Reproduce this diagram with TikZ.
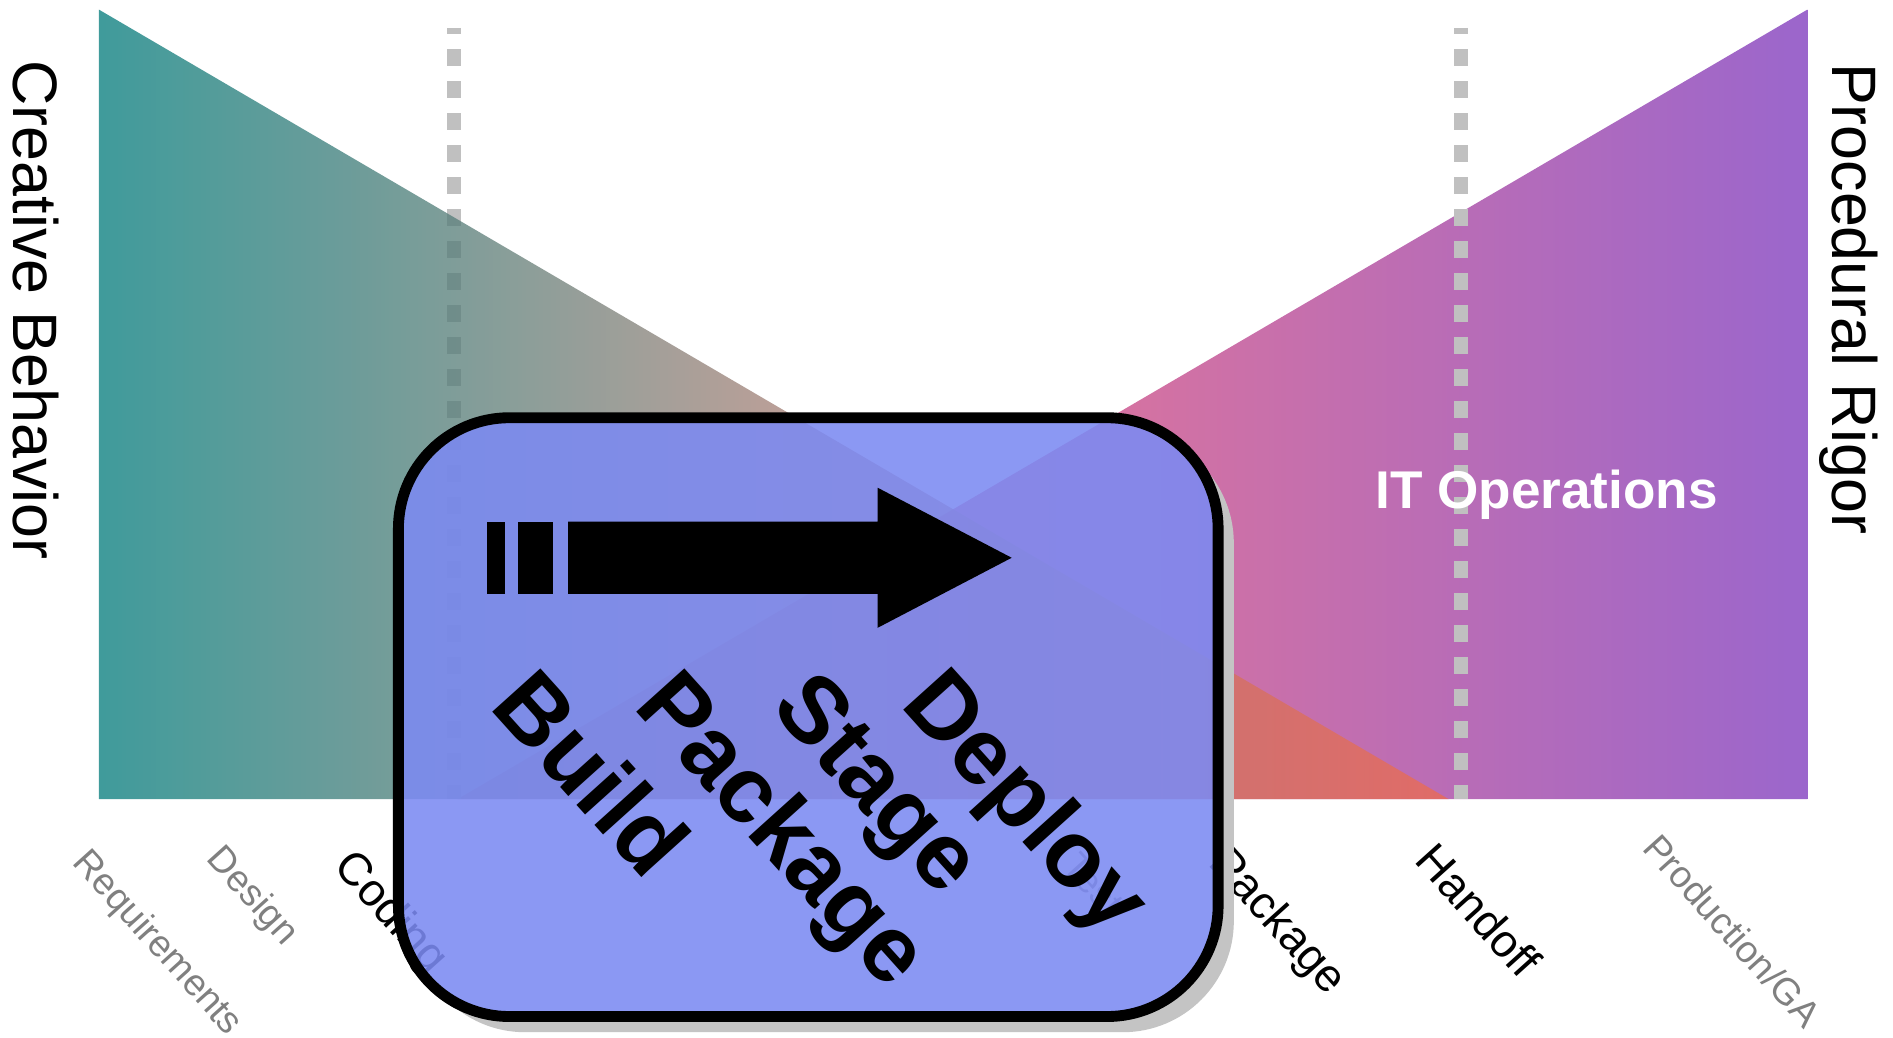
\documentclass[tikz,border=0pt]{standalone}
\usepackage{fontspec}
\setmainfont{Liberation Sans}
\definecolor{tealA}{RGB}{0,122,122}
\definecolor{tanM}{RGB}{162,128,118}
\definecolor{salR}{RGB}{238,107,78}
\definecolor{pinkL}{RGB}{232,115,140}
\definecolor{pinkM}{RGB}{212,114,162}
\definecolor{purpR}{RGB}{155,102,204}
\definecolor{dashgray}{RGB}{192,192,192}
\definecolor{labgray}{RGB}{128,128,128}
\definecolor{boxblue}{RGB}{124,138,242}
\definecolor{shadowgray}{RGB}{196,196,196}
\begin{document}
\begin{tikzpicture}[x=1pt,y=-1pt,
  dashline/.style={draw=dashgray, line width=12pt, dash pattern=on 14pt off 12.5pt, dash phase=8.5pt},
  lbl/.style={anchor=north west, inner sep=0pt, rotate=-48},
  glbl/.style={lbl, text=labgray, font=\fontsize{31}{37}\selectfont},
  blbl/.style={lbl, text=black, font=\fontsize{38}{45}\selectfont},
  word/.style={anchor=north west, inner sep=0pt, rotate=-48, font=\bfseries\fontsize{78}{92}\selectfont},
  side/.style={anchor=base west, inner sep=0pt, rotate=-90, font=\fontsize{52}{60}\selectfont},
  boxstyle/.style={draw=black, line width=9pt, rounded corners=92pt, fill=boxblue, fill opacity=0.88, draw opacity=1, inner sep=0pt}
]
\useasboundingbox (0,0) rectangle (1568,859);
\fill[white] (0,0) rectangle (1568,859);
% right triangle
\shade[left color=pinkL, right color=purpR, middle color=pinkM] (1497,8) -- (1497,662) -- (379,662) -- cycle;
% left dashed line (under the left triangle)
\draw[dashline] (376,23) -- (376,662);
% left triangle
\begin{scope}[opacity=0.75]
\shade[left color=tealA, right color=salR, middle color=tanM] (82,8) -- (82,662) -- (1200,662) -- cycle;
\end{scope}
% right dashed line (on top)
\draw[dashline] (1210,23) -- (1210,662);
% side texts
\node[side] (creative) at (11,50) {Creative Behavior};
\node[side] (rigor) at (1518,52) {Procedural Rigor};
\node[anchor=base, inner sep=0pt, text=white, font=\bfseries\fontsize{44}{52}\selectfont] (itops) at (1281,421) {IT Operations};
% bottom labels
\node[glbl] (req) at (76,700) {Requirements};
\node[glbl] (design) at (187,697) {Design};
\node[blbl] (coding) at (296,700) {Coding};
\node[glbl] (test) at (895,704) {Test};
\node[blbl] (package) at (1021,697) {Package};
\node[blbl] (handoff) at (1191,695) {Handoff};
\node[glbl] (prod) at (1376,688) {Production/GA};
% shadow of the box, only outside the box
\begin{scope}[even odd rule]
\clip (0,0) rectangle (1568,859) [rounded corners=92pt] (330,346) rectangle (1009,842);
\fill[shadowgray, rounded corners=92pt] (343,358) rectangle (1022,855);
\end{scope}
% box
\node[boxstyle, minimum width=679pt, minimum height=496pt] (box) at (669.5,594) {};
% arrow
\fill[black] (403,432) rectangle (418,492);
\fill[black] (429,432) rectangle (458,492);
\fill[black] (470.5,432) -- (727,432) -- (727,404) -- (838,462) -- (727,520) -- (727,492) -- (470.5,492) -- cycle;
% words
\node[word] (build) at (447,548) {Build};
\node[word] (wpackage) at (566,548) {Package};
\node[word] (stage) at (678,550) {Stage};
\node[word] (deploy) at (787,546) {Deploy};
\end{tikzpicture}
\end{document}
